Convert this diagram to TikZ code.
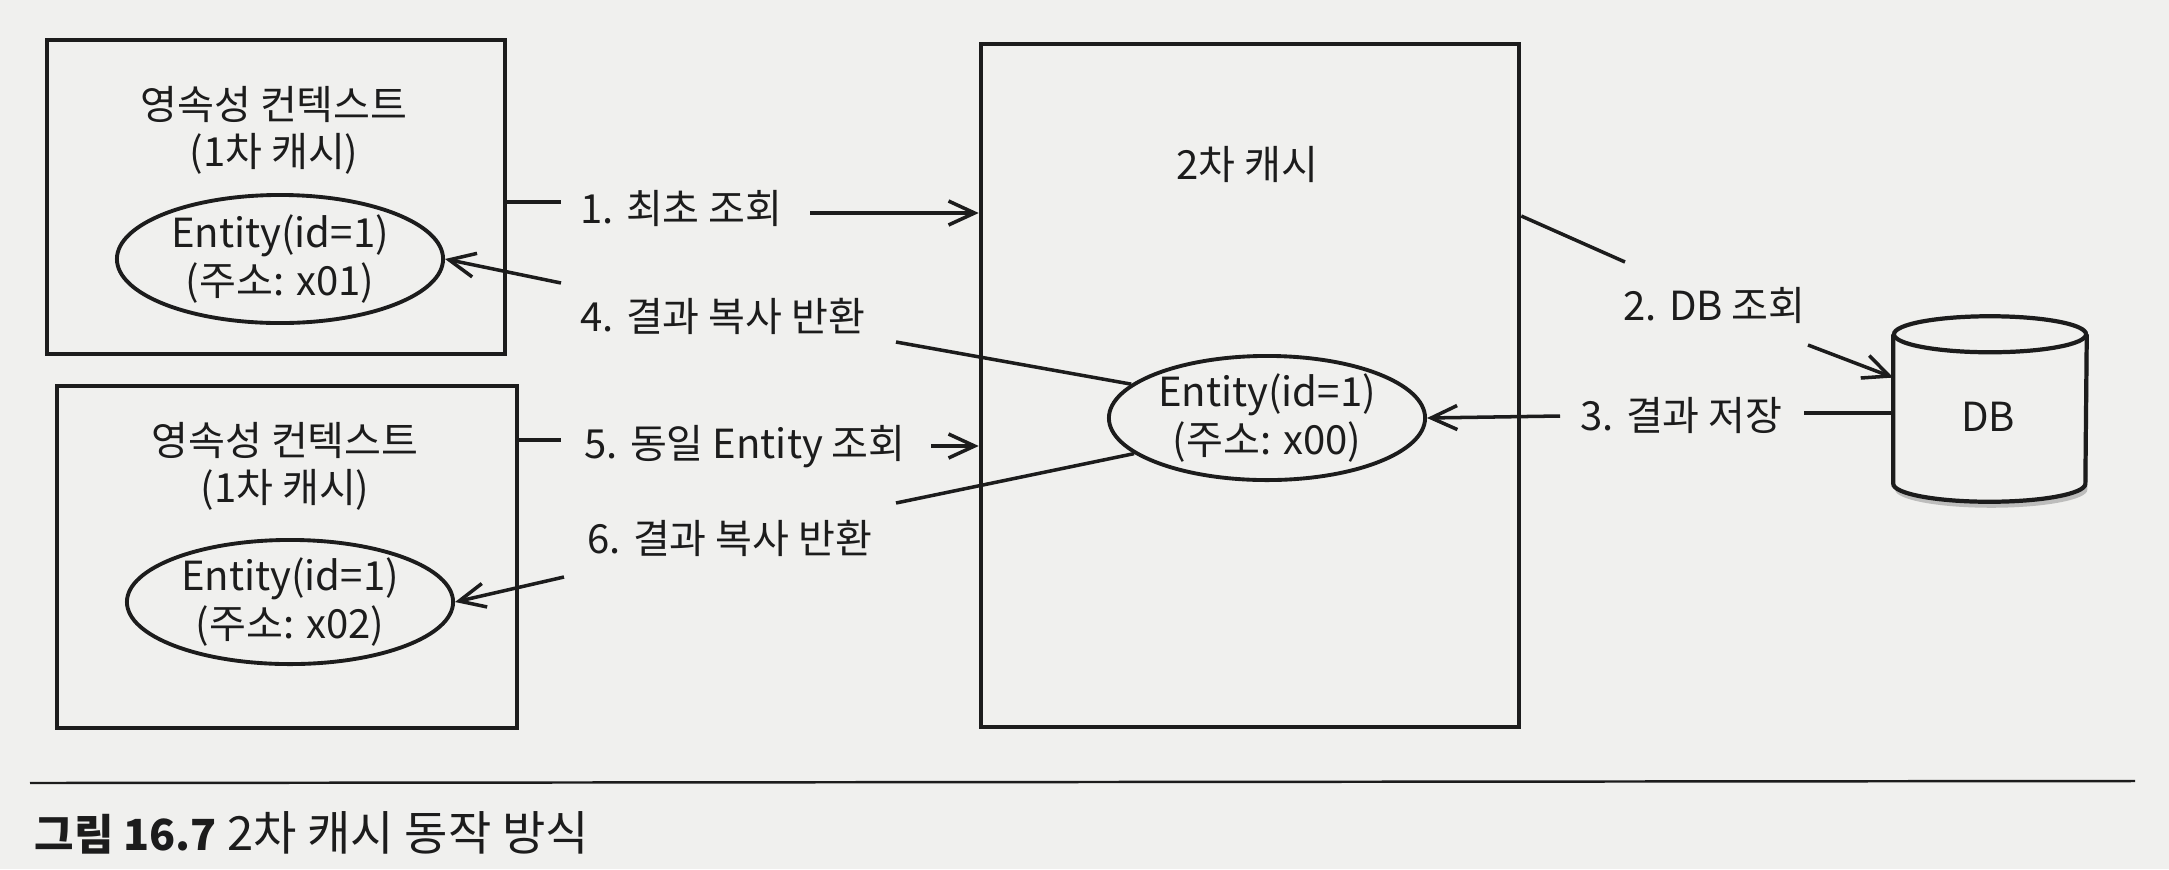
\documentclass[tikz,border=0pt]{standalone}
\usepackage{fontspec}
\setmainfont{Noto Sans CJK KR}
\usetikzlibrary{shapes.geometric,arrows.meta,shadows,calc}
\definecolor{bg}{RGB}{240,240,238}
\definecolor{ink}{RGB}{28,28,28}
\begin{document}
\begin{tikzpicture}[x=0.01cm,y=-0.01cm,
  every node/.style={text=ink, font=\fontsize{11.4pt}{13.4pt}\selectfont},
  box/.style={draw=ink, line width=1.2pt, rectangle, inner sep=0pt},
  ent/.style={draw=ink, line width=1.1pt, ellipse, inner sep=0pt, align=center},
  lbl/.style={inner sep=0pt, anchor=west},
  ttl/.style={align=center, inner sep=0pt},
  conn/.style={draw=ink, line width=1pt},
  arr/.style={conn, -{Straight Barb[length=0.26cm,width=0.24cm]}},
]
\fill[bg] (0,0) rectangle (2169,869);
\useasboundingbox (0,0) rectangle (2169,869);

% boxes
\node[box, minimum width=4.57cm, minimum height=3.14cm] (pc1) at (276,197) {};
\node[box, minimum width=4.60cm, minimum height=3.42cm] (pc2) at (287,557) {};
\node[box, minimum width=5.38cm, minimum height=6.83cm] (cache) at (1250,385.5) {};

% titles
\node[ttl] (t1) at (274,130) {영속성 컨텍스트\\(1차 캐시)};
\node[ttl] (t2) at (285,466) {영속성 컨텍스트\\(1차 캐시)};
\node[ttl] (t0) at (1247,164) {2차 캐시};

% entities
\node[ent, minimum width=3.26cm, minimum height=1.28cm] (e1) at (280,259) {Entity(id=1)\\(주소: x01)};
\node[ent, minimum width=3.26cm, minimum height=1.24cm] (e2) at (290,602) {Entity(id=1)\\(주소: x02)};
\node[ent, minimum width=3.16cm, minimum height=1.24cm] (e0) at (1267,418) {Entity(id=1)\\(주소: x00)};

% database
\node[minimum width=1.92cm, minimum height=1.48cm, inner sep=0pt] (db) at (1990,409) {};
\path[fill=bg, drop shadow={shadow xshift=0.02cm, shadow yshift=-0.06cm, opacity=0.45}]
  (db.north west) -- (db.south west)
  arc[start angle=180, end angle=360, x radius=0.96cm, y radius=0.18cm]
  -- (db.north east)
  arc[start angle=0, end angle=180, x radius=0.96cm, y radius=0.18cm] -- cycle;
\draw[ink, line width=1.2pt] (db.north west) -- (db.south west)
  arc[start angle=180, end angle=360, x radius=0.96cm, y radius=0.18cm]
  -- (db.north east);
\draw[ink, line width=1.2pt] (db.north) ellipse[x radius=0.96cm, y radius=0.18cm];
\node (dbt) at (1988,417) {DB};

% labels
\node[lbl] (l1) at (580,208) {1. 최초 조회};
\node[lbl] (l4) at (580,316) {4. 결과 복사 반환};
\node[lbl] (l5) at (584,447) {5. 동일 Entity 조회};
\node[lbl] (l6) at (587,538) {6. 결과 복사 반환};
\node[lbl] (l2) at (1623,305) {2. DB 조회};
\node[lbl] (l3) at (1580,415) {3. 결과 저장};

% connector ends
\coordinate (c1a) at (561,202);
\coordinate (c1b) at (810,213);
\coordinate (c4a) at (561,283);
\coordinate (c4b) at (896,342);
\coordinate (c5a) at (561,440);
\coordinate (c5b) at (931,446);
\coordinate (c6a) at (896,503);
\coordinate (c6b) at (564,577);
\coordinate (c2a) at (1625,262);
\coordinate (c2b) at (1808,345);
\coordinate (c3a) at (1560,416);
\coordinate (c3b) at (1804,413);

% connectors
\draw[conn] (c1a -| pc1.east) -- (c1a);
\draw[arr] (c1b) -- (c1b -| cache.west);
\draw[conn] (e0.166) -- (c4b);
\draw[arr] (c4a) -- (e1.east);
\draw[conn] (c5a -| pc2.east) -- (c5a);
\draw[arr] (c5b) -- (c5b -| cache.west);
\draw[conn] (e0.195) -- (c6a);
\draw[arr] (c6b) -- (e2.east);
\draw[conn] (cache.32.5) -- (c2a);
\draw[arr] (c2b) -- (db.162);
\draw[arr] (c3a) -- (e0.east);
\draw[conn] (c3b) -- (c3b -| db.west);

% caption
\draw[ink, line width=0.7pt] (30,783) -- (2135,781);
\node[lbl, font=\fontsize{13.4pt}{15pt}\selectfont] (cap) at (34,833) {{\fontsize{12.2pt}{15pt}\selectfont\textbf{그림 16.7}} 2차 캐시 동작 방식};
\end{tikzpicture}
\end{document}
